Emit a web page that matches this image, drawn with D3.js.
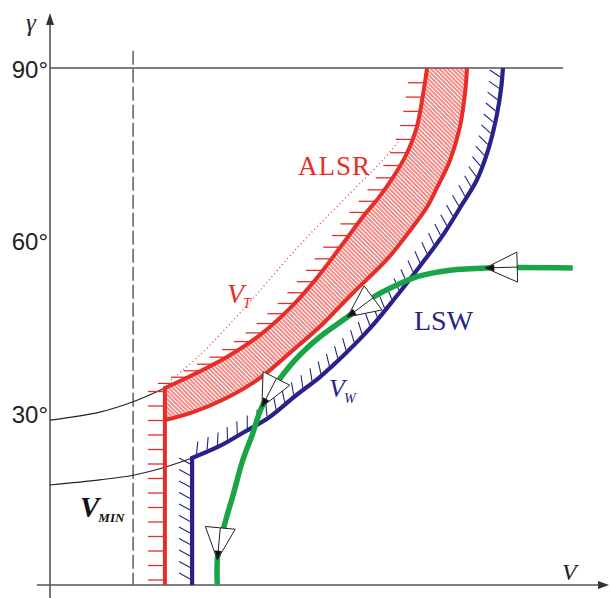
<!DOCTYPE html>
<html>
<head>
<meta charset="utf-8">
<script src="https://cdn.jsdelivr.net/npm/d3@7"></script>
<style>
body { margin: 0; background: #fff; }
text.serif { font-family: "Liberation Serif", "Times New Roman", "DejaVu Serif", serif; }
text.sans { font-family: "Liberation Sans", Arial, sans-serif; }
</style>
</head>
<body>
<div id="chart"></div>
<script>
// flight path angle gamma in degrees, speed V in relative units (100 = end of the 90 deg line)
var gammaTicks = [30, 60, 90];
var vMin = 16.2;

// ALSR boundaries (red): vertical part at V = 22.4, then curves up to 90 deg
var alsrVertical = [[22.4, 0], [22.4, 34.3]];
var alsrOuter = [[22.4, 34.3], [27.9, 36.6], [34.5, 39.7], [40.9, 43.5], [46.8, 48.2], [51.7, 53.1],
    [56.5, 58.7], [61.0, 64.1], [64.3, 67.7], [66.9, 71.0], [69.6, 75.2], [71.5, 79.7], [72.7, 85.3], [73.5, 90]];
var alsrInner = [[22.4, 28.7], [27.9, 30.1], [34.5, 32.6], [40.9, 36.0], [47.4, 40.9], [53.0, 45.3],
    [58.9, 50.7], [65.9, 56.9], [70.6, 62.2], [73.5, 65.8], [75.4, 69.1], [78.0, 74.0], [79.9, 79.7], [80.9, 85.6], [81.3, 90]];

// LSW boundary (blue)
var lswVertical = [[27.7, 0], [27.7, 22.1]];
var lswCurve = [[27.7, 22.1], [33.1, 24.2], [37.6, 26.5], [42.9, 29.3], [47.8, 32.9], [52.6, 36.2], [57.5, 40.2],
    [62.4, 44.7], [67.3, 50.0], [72.1, 55.5], [76.6, 60.9], [80.3, 66.2], [83.2, 70.5], [85.4, 75.7],
    [87.1, 81.8], [87.9, 86.2], [88.3, 90]];

// V_T dotted line
var vtLine = [[23.6, 35.7], [29.2, 40.0], [37.8, 48.1], [48.7, 59.2], [56.5, 66.4], [64.9, 74.0], [68.2, 77.5]];

// thin black lines from the gamma axis
var arcUpper = [[0, 28.7], [9.7, 30.1], [16.2, 31.9], [22.4, 34.3]];
var arcLower = [[0, 17.4], [9.7, 18.3], [16.2, 19.1], [22.4, 20.5], [27.7, 22.1]];

// trajectory (green), from the right end down to the ground
var trajectory = [[101.9, 55.2], [85.2, 55.2], [78.0, 54.8], [72.1, 53.8], [67.3, 52.1], [63.0, 50.1],
    [58.5, 47.0], [52.6, 43.2], [47.8, 39.2], [43.9, 34.8], [41.3, 31.0], [39.4, 26.1], [37.6, 21.8],
    [35.7, 15.7], [33.9, 10.1], [32.7, 5.2], [32.6, 0]];
var arrowTips = [[84.8, 55.2], [57.9, 46.7], [41.3, 31.0], [32.6, 4.4]];

var W = 612, H = 598;
var red = "#e62d28", navy = "#28238a", green = "#19a546", axisGrey = "#555";

var x = d3.scaleLinear().domain([0, 100]).range([50, 563]);
var y = d3.scaleLinear().domain([0, 90]).range([585, 68]);

var svg = d3.select("#chart").append("svg")
    .attr("width", W)
    .attr("height", H);

var line = d3.line().x(d => x(d[0])).y(d => y(d[1]));
var smooth = d3.line().x(d => x(d[0])).y(d => y(d[1])).curve(d3.curveCatmullRom.alpha(0.5));

var pat = svg.append("defs").append("pattern")
    .attr("id", "hatch")
    .attr("patternUnits", "userSpaceOnUse")
    .attr("width", 3)
    .attr("height", 3)
    .attr("patternTransform", "rotate(-45)");
pat.append("line")
    .attr("x1", 1).attr("y1", 0).attr("x2", 1).attr("y2", 3)
    .attr("stroke", red)
    .attr("stroke-width", 1.1);

// axes
svg.append("line")
    .attr("x1", x(0)).attr("y1", 598).attr("x2", x(0)).attr("y2", 22)
    .attr("stroke", axisGrey).attr("stroke-width", 1.6);
svg.append("path")
    .attr("d", d3.line()([[x(0), 13], [x(0) - 4, 25], [x(0) + 4, 25]]) + "Z")
    .attr("fill", "#333");
svg.append("line")
    .attr("x1", 37).attr("y1", y(0)).attr("x2", 600).attr("y2", y(0))
    .attr("stroke", axisGrey).attr("stroke-width", 1.6);
svg.append("path")
    .attr("d", d3.line()([[609, y(0)], [598, y(0) - 4], [598, y(0) + 4]]) + "Z")
    .attr("fill", "#333");
svg.append("line")
    .attr("x1", x(0)).attr("y1", y(90)).attr("x2", x(100)).attr("y2", y(90))
    .attr("stroke", axisGrey).attr("stroke-width", 1.4);

svg.selectAll(".glabel")
    .data(gammaTicks)
    .enter().append("text")
    .attr("class", "sans")
    .attr("x", x(0) - 2)
    .attr("y", d => y(d) + 10)
    .attr("text-anchor", "end")
    .attr("font-size", 24)
    .attr("fill", "#222")
    .text(d => d + "°");

svg.append("text")
    .attr("class", "serif")
    .attr("x", 31).attr("y", 31)
    .attr("text-anchor", "middle")
    .attr("font-size", 25)
    .attr("font-style", "italic")
    .attr("fill", "#222")
    .text("γ");
svg.append("text")
    .attr("class", "serif")
    .attr("x", 562).attr("y", 580)
    .attr("font-size", 24)
    .attr("font-style", "italic")
    .attr("fill", "#222")
    .text("V");

// V_MIN dashed line
svg.append("line")
    .attr("x1", x(vMin)).attr("y1", y(93)).attr("x2", x(vMin)).attr("y2", y(0))
    .attr("stroke", axisGrey).attr("stroke-width", 1.4)
    .attr("stroke-dasharray", "14,4");

// thin black lines
[arcUpper, arcLower].forEach(function (a) {
    svg.append("path")
        .attr("d", smooth(a))
        .attr("fill", "none")
        .attr("stroke", "#222")
        .attr("stroke-width", 1.1);
});

// ALSR band
svg.append("path")
    .attr("d", smooth(alsrOuter) + smooth(alsrInner.slice().reverse()).replace(/^M/, "L") + "Z")
    .attr("fill", "url(#hatch)");

var redOuter = svg.append("path")
    .attr("d", line(alsrVertical) + smooth(alsrOuter).replace(/^M/, "L"))
    .attr("fill", "none")
    .attr("stroke", red)
    .attr("stroke-width", 4);
svg.append("path")
    .attr("d", smooth(alsrInner))
    .attr("fill", "none")
    .attr("stroke", red)
    .attr("stroke-width", 4);

var node = redOuter.node();
var len = node.getTotalLength();
for (var s = 5; s < len - 3; s += 14.5) {
    var p = node.getPointAtLength(s);
    svg.append("line")
        .attr("x1", p.x - 17).attr("y1", p.y).attr("x2", p.x - 1).attr("y2", p.y)
        .attr("stroke", red).attr("stroke-width", 1.3);
}

svg.append("path")
    .attr("d", smooth(vtLine))
    .attr("fill", "none")
    .attr("stroke", red)
    .attr("stroke-width", 1.2)
    .attr("stroke-dasharray", "1,3");

// LSW boundary
var blue = svg.append("path")
    .attr("d", line(lswVertical) + smooth(lswCurve).replace(/^M/, "L"))
    .attr("fill", "none")
    .attr("stroke", navy)
    .attr("stroke-width", 4.2);

node = blue.node();
len = node.getTotalLength();
for (var s = 6; s < len - 3; s += 11.5) {
    var p = node.getPointAtLength(s),
        a = node.getPointAtLength(s - 1),
        b = node.getPointAtLength(s + 1);
    var dx = b.x - a.x, dy = b.y - a.y, k = Math.sqrt(dx * dx + dy * dy);
    var tx = dx / k, ty = dy / k, nx = ty, ny = -tx;
    svg.append("line")
        .attr("x1", p.x + 2 * nx).attr("y1", p.y + 2 * ny)
        .attr("x2", p.x + 13 * nx + 6 * tx).attr("y2", p.y + 13 * ny + 6 * ty)
        .attr("stroke", navy).attr("stroke-width", 1.1);
}

// trajectory
var traj = svg.append("path")
    .attr("d", smooth(trajectory))
    .attr("fill", "none")
    .attr("stroke", green)
    .attr("stroke-width", 5.5);

node = traj.node();
len = node.getTotalLength();
arrowTips.forEach(function (t) {
    var tx = x(t[0]), ty = y(t[1]), best = 0, bd = 1e9;
    for (var s = 0; s <= len; s += 0.5) {
        var q = node.getPointAtLength(s);
        var d = (q.x - tx) * (q.x - tx) + (q.y - ty) * (q.y - ty);
        if (d < bd) { bd = d; best = s; }
    }
    var p = node.getPointAtLength(best), a = node.getPointAtLength(Math.max(0, best - 6));
    var dx = p.x - a.x, dy = p.y - a.y, k = Math.sqrt(dx * dx + dy * dy);
    dx /= k; dy /= k;
    var mx = -dy, my = dx;
    var bx = p.x - 32 * dx, by = p.y - 32 * dy;
    svg.append("path")
        .attr("d", d3.line()([[p.x, p.y], [bx + 15 * mx, by + 15 * my], [bx - 15 * mx, by - 15 * my]]) + "Z")
        .attr("fill", "#fff")
        .attr("stroke", "#222")
        .attr("stroke-width", 1);
    svg.append("line")
        .attr("x1", bx).attr("y1", by).attr("x2", p.x).attr("y2", p.y)
        .attr("stroke", "#222").attr("stroke-width", 1);
    svg.append("path")
        .attr("d", d3.line()([[p.x, p.y], [p.x - 9 * dx + 3.5 * mx, p.y - 9 * dy + 3.5 * my],
            [p.x - 9 * dx - 3.5 * mx, p.y - 9 * dy - 3.5 * my]]) + "Z")
        .attr("fill", "#111");
});

// labels
svg.append("text")
    .attr("class", "serif")
    .attr("x", 298).attr("y", 175)
    .attr("font-size", 27)
    .attr("letter-spacing", 1)
    .attr("fill", red)
    .text("ALSR");
svg.append("text")
    .attr("class", "serif")
    .attr("x", 414).attr("y", 330)
    .attr("font-size", 28)
    .attr("fill", navy)
    .text("LSW");

var vt = svg.append("text")
    .attr("class", "serif")
    .attr("x", 227).attr("y", 303)
    .attr("font-size", 28)
    .attr("font-style", "italic")
    .attr("fill", red);
vt.append("tspan").text("V");
vt.append("tspan").attr("dx", -1).attr("dy", 5).attr("font-size", 14).text("T");

var vw = svg.append("text")
    .attr("class", "serif")
    .attr("x", 329).attr("y", 397)
    .attr("font-size", 26)
    .attr("font-style", "italic")
    .attr("fill", navy);
vw.append("tspan").text("V");
vw.append("tspan").attr("dx", -1).attr("dy", 6).attr("font-size", 14).text("W");

var vm = svg.append("text")
    .attr("class", "serif")
    .attr("x", 80).attr("y", 517)
    .attr("font-size", 29)
    .attr("font-style", "italic")
    .attr("font-weight", "bold")
    .attr("fill", "#111");
vm.append("tspan").text("V");
vm.append("tspan").attr("dx", -1).attr("dy", 5).attr("font-size", 13).text("MIN");
</script>
</body>
</html>
